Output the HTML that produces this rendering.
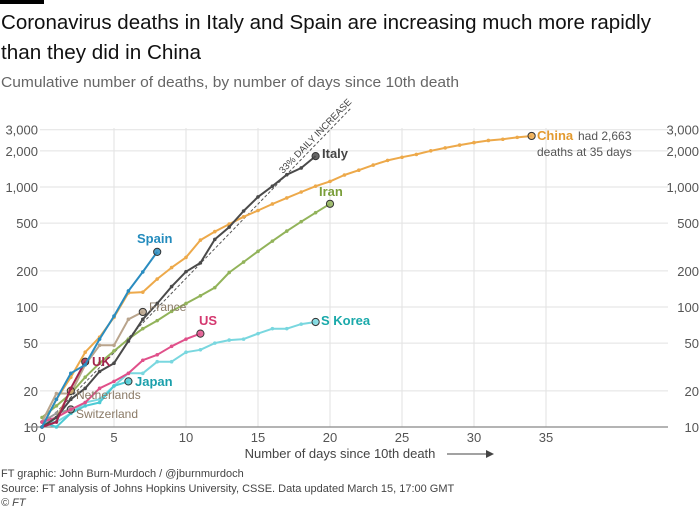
<!DOCTYPE html>
<html><head><meta charset="utf-8"><style>
body{margin:0;background:#fff;width:700px;height:510px;overflow:hidden;font-family:"Liberation Sans",sans-serif}
svg text{font-family:"Liberation Sans",sans-serif}
</style></head><body>
<svg id="s" width="700" height="510" xmlns="http://www.w3.org/2000/svg">
<rect x="0" y="0" width="44" height="4" fill="#000"/>
<text x="1" y="29" font-size="20" fill="#111" textLength="650" lengthAdjust="spacingAndGlyphs">Coronavirus deaths in Italy and Spain are increasing much more rapidly</text>
<text x="1" y="59" font-size="20" fill="#111" textLength="200" lengthAdjust="spacingAndGlyphs">than they did in China</text>
<text x="1" y="87" font-size="14.5" fill="#666" textLength="458" lengthAdjust="spacingAndGlyphs">Cumulative number of deaths, by number of days since 10th death</text>
<g id="grid"></g>
<g id="series"></g>
<text x="340" y="458" font-size="13" fill="#444" text-anchor="middle">Number of days since 10th death</text>
<line x1="447" y1="454" x2="488" y2="454" stroke="#444" stroke-width="1"/>
<polygon points="486,450 494,454 486,458" fill="#444"/>
<text x="1" y="477" font-size="11" fill="#444">FT graphic: John Burn-Murdoch / @jburnmurdoch</text>
<text x="1" y="492" font-size="11" fill="#444">Source: FT analysis of Johns Hopkins University, CSSE. Data updated March 15, 17:00 GMT</text>
<text x="1" y="506" font-size="11" fill="#444" font-style="italic">© FT</text>
</svg>
<script>
const X=d=>42+14.4*d, Y=v=>427-120*Math.log10(v/10);
const ns="http://www.w3.org/2000/svg";
function el(p,t,a,txt){const e=document.createElementNS(ns,t);for(const k in a)e.setAttribute(k,a[k]);if(txt!==undefined)e.textContent=txt;p.appendChild(e);return e;}
const g=document.getElementById('grid');
[10,20,50,100,200,500,1000,2000,3000].forEach(v=>{
 const y=Y(v);
 if(v>10) el(g,'line',{x1:40,x2:668,y1:y,y2:y,stroke:'#e2e2e2','stroke-width':1});
 el(g,'text',{x:38,y:y+5,'font-size':13,fill:'#555','text-anchor':'end'},v.toLocaleString('en-US'));
 el(g,'text',{x:699,y:y+5,'font-size':13,fill:'#555','text-anchor':'end'},v.toLocaleString('en-US'));
});
[5,10,15,20,25,30,35].forEach(d=>el(g,'line',{x1:X(d),x2:X(d),y1:128,y2:427,stroke:'#e2e2e2'}));
el(g,'line',{x1:28,x2:668,y1:427,y2:427,stroke:'#888','stroke-width':1.2});
[0,5,10,15,20,25,30,35].forEach(d=>el(g,'text',{x:X(d),y:442,'font-size':13,fill:'#555','text-anchor':'middle'},d));
const s=document.getElementById('series');
el(s,'line',{x1:X(0),y1:Y(10),x2:X(21.5),y2:Y(10*Math.pow(1.33,21.5)),stroke:'#555','stroke-dasharray':'3,2','stroke-width':1});
el(s,'text',{x:0,y:0,'font-size':9.5,fill:'#444',transform:`translate(283,174) rotate(-46)`},'33% DAILY INCREASE');
const data=[
 ['China','#eda94a',[10,17,26,42,56,82,131,133,171,213,259,361,425,491,564,637,722,811,908,1016,1113,1259,1380,1523,1665,1770,1868,2004,2118,2236,2345,2442,2500,2592,2663]],
 ['Iran','#92b35a',[12,15,19,26,34,43,54,66,77,92,107,124,145,194,237,291,354,429,514,611,724]],
 ['SKorea','#79d7df',[11,11,13,16,17,22,28,28,35,35,42,44,50,53,54,60,66,66,72,75]],
 ['France','#b9a48c',[11,19,19,33,48,48,79,91]],
 ['Japan','#4ccad4',[11,10,13,15,16,22,24]],
 ['Switz','#9a9a9a',[11,13,14]],
 ['Neth','#c9a46a',[10,12,20]],
 ['US','#e0508a',[11,12,14,16,21,24,28,36,40,47,54,60]],
 ['Italy','#4a4a4a',[10,12,17,21,29,34,52,79,107,148,197,233,366,463,631,827,1016,1266,1441,1809]],
 ['UK','#a3244d',[10,11,21,35]],
 ['Spain','#2a8cc0',[10,17,28,33,54,84,136,196,288]],
];
data.forEach(([n,c,vals])=>{
 const pts=vals.map((v,i)=>X(i).toFixed(1)+','+Y(v).toFixed(1)).join(' ');
 el(s,'polyline',{points:pts,fill:'none',stroke:c,'stroke-width':2,'stroke-linejoin':'round'});
 vals.forEach((v,i)=>{if(i<vals.length-1)el(s,'circle',{cx:X(i),cy:Y(v),r:1.8,fill:c});});
 const i=vals.length-1;
 el(s,'circle',{cx:X(i),cy:Y(vals[i]),r:3.6,fill:c,stroke:'#333','stroke-width':1,'fill-opacity':0.85});
});
function lab(x,y,t,c,w,sz){el(s,'text',{x,y,'font-size':sz||13,fill:c,'font-weight':w||'bold'},t);}
lab(537,140,'China','#e39a2f');
el(s,'text',{x:578,y:140,'font-size':12,fill:'#555'},'had 2,663');
el(s,'text',{x:537,y:156,'font-size':12,fill:'#555'},'deaths at 35 days');
lab(322,158,'Italy','#444');
lab(319,196,'Iran','#7a9e3a');
lab(321,325,'S Korea','#1aa9aa');
lab(137,243,'Spain','#238bbd');
lab(149,311,'France','#8a7a66','normal',12);
lab(199,325,'US','#d4386f');
lab(92,366,'UK','#a3244d');
lab(135,386,'Japan','#1a9fab');
lab(76,399,'Netherlands','#8a7a66','normal',12);
lab(76,418,'Switzerland','#8a7a66','normal',12);
</script>
</body></html>
